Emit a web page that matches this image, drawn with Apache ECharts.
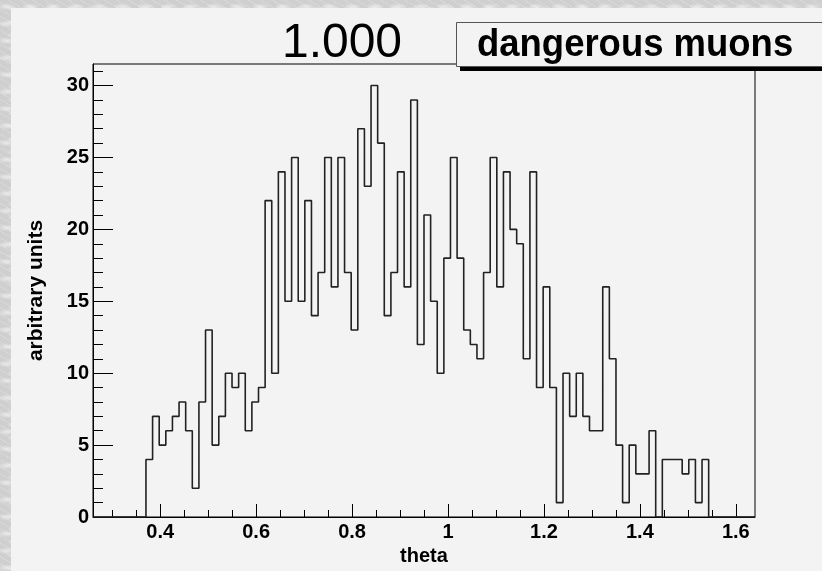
<!DOCTYPE html>
<html>
<head>
<meta charset="utf-8">
<script src="https://cdn.jsdelivr.net/npm/echarts@6/dist/echarts.min.js"></script>
<style>
  html, body { margin: 0; padding: 0; }
  #chart {
    width: 822px; height: 571px;
    background-color: #cfcfcf;
    background-image:
      radial-gradient(ellipse 14px 5px at 30% 40%, rgba(255,255,255,0.55), rgba(255,255,255,0) 70%),
      radial-gradient(ellipse 9px 4px at 70% 70%, rgba(255,255,255,0.45), rgba(255,255,255,0) 70%),
      repeating-linear-gradient(30deg, rgba(255,255,255,0.18) 0 1px, rgba(0,0,0,0) 1px 6px);
    background-size: 23px 17px, 19px 13px, auto;
  }
</style>
</head>
<body>
<div id="chart"></div>
<script>
// histogram: 100 bins between xMin and xMax
const xMin = 0.26, xMax = 1.64, nBins = 100;
const counts = [
    0, 0, 0, 0, 0, 0, 0, 0,
    4, 7, 5, 6, 7, 8, 6, 2, 8, 13, 5, 7, 10, 9, 10, 6, 8, 9, 22, 10, 24,
    15, 25, 15, 22, 14, 17, 25, 16, 25, 17, 13, 27, 23, 30, 26, 14, 17, 24, 16, 29,
    12, 21, 15, 10, 18, 25, 18, 13, 12,
    11, 17, 25, 16, 24, 20, 19, 11, 24, 9, 16, 9, 1, 10, 7, 10, 7, 6, 6, 16, 11,
    5, 1, 5, 3, 3, 6, 0,
    4, 4, 4, 3, 4, 1, 4,
    0, 0, 0, 0, 0, 0, 0
];

const xMajorTicks = [0.4, 0.6, 0.8, 1, 1.2, 1.4, 1.6];
const xMinorTicks = [0.3, 0.35, 0.45, 0.5, 0.55, 0.65, 0.7, 0.75, 0.85, 0.9, 0.95,
    1.05, 1.1, 1.15, 1.25, 1.3, 1.35, 1.45, 1.5, 1.55];
const yMajorTicks = [0, 5, 10, 15, 20, 25, 30];
const yMinorTicks = [1, 2, 3, 4, 6, 7, 8, 9, 11, 12, 13, 14, 16, 17, 18, 19,
    21, 22, 23, 24, 26, 27, 28, 29, 31];
const yMax = 31.5;

const titleText = '1.000';
const legendText = 'dangerous muons';

const FONT = "'Liberation Sans', Arial, Helvetica, sans-serif";
const binW = (xMax - xMin) / nBins;

// bin left edges + closing point, drawn as a step line
const histPoints = counts.map((c, i) => [xMin + i * binW, c]);
histPoints.push([xMax, counts[nBins - 1]]);

const chart = echarts.init(document.getElementById('chart'), null, { renderer: 'canvas' });

const labelStyle = { color: '#000', fontFamily: FONT, fontWeight: 'bold', fontSize: 20 };

chart.setOption({
    animation: false,
    backgroundColor: 'transparent',
    grid: {
        left: 93, right: 67, top: 64, bottom: 54,
        show: true, borderColor: '#000', borderWidth: 1,
        outerBoundsMode: 'none'
    },
    xAxis: [
        {
            type: 'value', min: xMin, max: xMax, position: 'bottom',
            axisLine: { show: true, lineStyle: { color: '#000', width: 1 } },
            axisTick: { show: true, inside: true, length: 13, customValues: xMajorTicks,
                lineStyle: { color: '#000', width: 1 } },
            axisLabel: Object.assign({ customValues: xMajorTicks, margin: 5 }, labelStyle),
            splitLine: { show: false },
            name: 'theta', nameLocation: 'middle', nameGap: 27,
            nameTextStyle: labelStyle
        },
        {
            type: 'value', min: xMin, max: xMax, position: 'bottom',
            axisLine: { show: false },
            axisTick: { show: true, inside: true, length: 7, customValues: xMinorTicks,
                lineStyle: { color: '#000', width: 1 } },
            axisLabel: { show: false },
            splitLine: { show: false }
        }
    ],
    yAxis: [
        {
            type: 'value', min: 0, max: yMax, position: 'left',
            axisLine: { show: true, lineStyle: { color: '#000', width: 1 } },
            axisTick: { show: true, inside: true, length: 20, customValues: yMajorTicks,
                lineStyle: { color: '#000', width: 1 } },
            axisLabel: Object.assign({ customValues: yMajorTicks, margin: 4 }, labelStyle),
            splitLine: { show: false },
            name: 'arbitrary units', nameLocation: 'middle', nameGap: 46,
            nameTextStyle: Object.assign({}, labelStyle, { fontSize: 21 })
        },
        {
            type: 'value', min: 0, max: yMax, position: 'left',
            axisLine: { show: false },
            axisTick: { show: true, inside: true, length: 10, customValues: yMinorTicks,
                lineStyle: { color: '#000', width: 1 } },
            axisLabel: { show: false },
            splitLine: { show: false }
        }
    ],
    series: [{
        type: 'line',
        xAxisIndex: 0, yAxisIndex: 0,
        step: 'end',
        data: histPoints,
        symbol: 'none',
        silent: true,
        lineStyle: { color: '#222', width: 1.6 },
        z: 3
    }],
    graphic: [
        { // pad
            type: 'rect', z: -100, silent: true,
            shape: { x: 11, y: 8, width: 811, height: 563 },
            style: { fill: '#f3f3f3' }
        },
        {
            type: 'text', z: 50, silent: true,
            x: 342, y: 44,
            style: { text: titleText, fill: '#000', font: '48px ' + FONT,
                textAlign: 'center', textVerticalAlign: 'middle' }
        },
        { // legend shadow
            type: 'rect', z: 60, silent: true,
            shape: { x: 460, y: 26, width: 420, height: 45 },
            style: { fill: '#000' }
        },
        { // legend box
            type: 'rect', z: 61, silent: true,
            shape: { x: 456.5, y: 22.5, width: 420, height: 44 },
            style: { fill: '#f3f3f3', stroke: '#555', lineWidth: 1 }
        },
        {
            type: 'text', z: 62, silent: true,
            x: 477, y: 46, scaleX: 0.96,
            style: { text: legendText, fill: '#000', font: 'bold 38px ' + FONT,
                textAlign: 'left', textVerticalAlign: 'middle' }
        }
    ]
});
</script>
</body>
</html>
